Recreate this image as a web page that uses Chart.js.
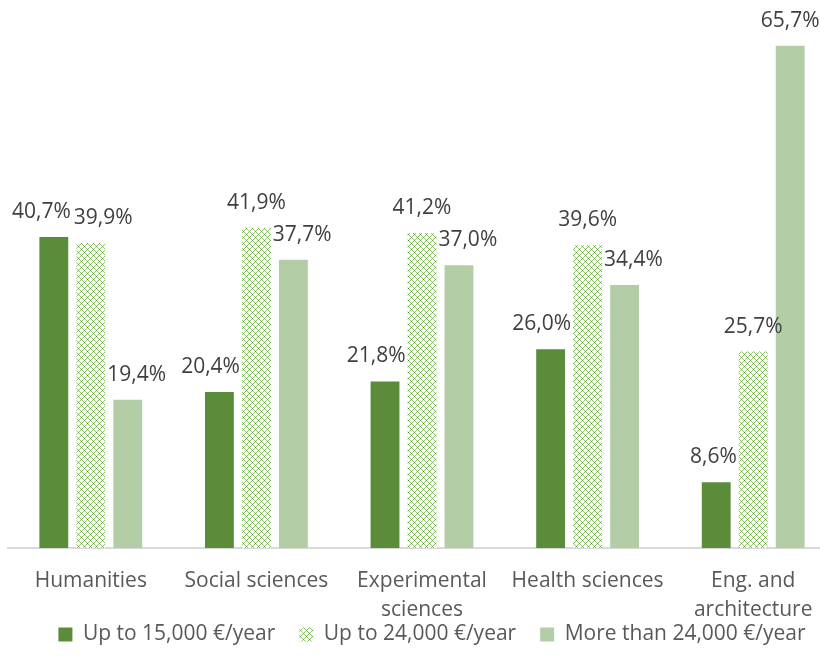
<!DOCTYPE html>
<html>
<head>
<meta charset="utf-8">
<script src="https://cdn.jsdelivr.net/npm/chart.js@4/dist/chart.umd.min.js"></script>
<style>
  html, body { margin: 0; padding: 0; background: #fff; overflow: hidden; }
  #wrap { width: 840px; height: 662px; }
</style>
</head>
<body>
<div id="wrap"><canvas id="income-chart"></canvas></div>
<script>
const categories = [
  "Humanities",
  "Social sciences",
  ["Experimental", "sciences"],
  "Health sciences",
  ["Eng. and", "architecture"],
];
const seriesNames = [
  "Up to 15,000 €/year",
  "Up to 24,000 €/year",
  "More than 24,000 €/year",
];
const upTo15k = [40.7, 20.4, 21.8, 26.0, 8.6];
const upTo24k = [39.9, 41.9, 41.2, 39.6, 25.7];
const moreThan24k = [19.4, 37.7, 37.0, 34.4, 65.7];

const FONT = "'Open Sans', sans-serif";
const FONT_SIZE = 21;

// small diamond lattice used for the middle series
function makePattern() {
  const size = 6;
  const c = document.createElement("canvas");
  c.width = size;
  c.height = size;
  const g = c.getContext("2d");
  g.fillStyle = "#ffffff";
  g.fillRect(0, 0, size, size);
  for (let y = 0; y < size; y++) {
    for (let x = 0; x < size; x++) {
      const a = (x + y) % size === 0;
      const b = (x - y + size) % size === 0;
      if (a && b) {
        g.fillStyle = "#5f9e3a";
        g.fillRect(x, y, 1, 1);
      } else if (a || b) {
        g.fillStyle = "#8fc46c";
        g.fillRect(x, y, 1, 1);
      }
    }
  }
  return document.getElementById("income-chart").getContext("2d").createPattern(c, "repeat");
}

function formatPct(v) {
  return v.toFixed(1).replace(".", ",") + "%";
}

// value labels above the bars, nudged sideways when they would hit a
// neighbouring bar or label
const barLabels = {
  id: "barLabels",
  afterDatasetsDraw(chart) {
    const ctx = chart.ctx;
    ctx.save();
    ctx.font = FONT_SIZE + "px " + FONT;
    ctx.fillStyle = "#404040";
    ctx.textBaseline = "alphabetic";
    ctx.textAlign = "left";
    const metas = [0, 1, 2].map((i) => chart.getDatasetMeta(i));
    const n = chart.data.labels.length;
    for (let j = 0; j < n; j++) {
      const bars = metas.map((m) => m.data[j]);
      const texts = [0, 1, 2].map((i) => formatPct(chart.data.datasets[i].data[j]));
      const widths = texts.map((t) => ctx.measureText(t).width);
      const ys = bars.map((b) => b.y - 19);
      const left = bars.map((b, i) => b.x - widths[i] / 2);
      const mid = bars[1];
      const midL = mid.x - mid.width / 2;
      const midR = mid.x + mid.width / 2;
      // outer labels that sit beside the middle bar move off it
      if (ys[0] > mid.y - 2 && left[0] + widths[0] > midL - 2) left[0] = midL - 2 - widths[0];
      if (ys[2] > mid.y - 2 && left[2] < midR + 2) left[2] = midR + 2;
      // first and middle labels at the same height are pushed apart
      const overlap = left[0] + widths[0] + 3 - left[1];
      if (Math.abs(ys[1] - ys[0]) < 24 && overlap > 0) {
        left[0] -= overlap / 2;
        left[1] += overlap / 2;
      }
      for (let i = 0; i < 3; i++) {
        ctx.fillText(texts[i], left[i], ys[i]);
      }
    }
    ctx.restore();
  },
};

// the legend keeps its item spacing but sits tight under the axis labels
const legendLift = {
  id: "legendLift",
  afterLayout(chart) {
    const legend = chart.legend;
    const lift = legend.options.labels.padding;
    legend.top -= lift;
    legend.bottom -= lift;
    legend.left += 10;
    legend.right += 10;
  },
};

const ctx = document.getElementById("income-chart").getContext("2d");
new Chart(ctx, {
  type: "bar",
  data: {
    labels: categories,
    datasets: [
      { label: seriesNames[0], data: upTo15k, backgroundColor: "#5b8c3a" },
      { label: seriesNames[1], data: upTo24k, backgroundColor: makePattern() },
      { label: seriesNames[2], data: moreThan24k, backgroundColor: "#b3cea6" },
    ],
  },
  options: {
    responsive: true,
    maintainAspectRatio: false,
    animation: false,
    categoryPercentage: 0.67,
    barPercentage: 0.78,
    layout: { padding: { left: 8, right: 4, top: 13, bottom: -17 } },
    scales: {
      x: {
        grid: { display: false, drawTicks: false },
        border: { color: "#d9d9d9", width: 2 },
        ticks: {
          color: "#595959",
          font: { family: FONT, size: FONT_SIZE, lineHeight: 1.35 },
          padding: 19,
          maxRotation: 0,
          autoSkip: false,
        },
        afterFit(scale) {
          scale.height = 76;
        },
      },
      y: {
        display: false,
        min: 0,
        max: 70,
      },
    },
    plugins: {
      legend: {
        position: "bottom",
        labels: {
          color: "#595959",
          font: { family: FONT, size: FONT_SIZE },
          boxWidth: 14,
          boxHeight: 14,
          padding: 24,
        },
      },
      tooltip: { enabled: false },
    },
  },
  plugins: [barLabels, legendLift],
});
</script>
</body>
</html>
